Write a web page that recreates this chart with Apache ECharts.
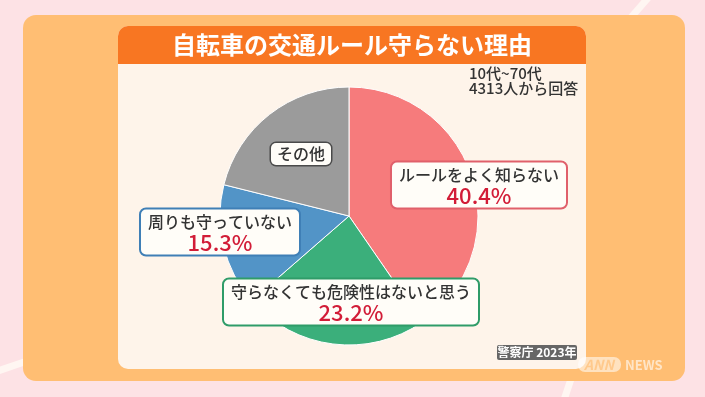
<!DOCTYPE html>
<html>
<head>
<meta charset="utf-8">
<script src="https://cdn.jsdelivr.net/npm/echarts@6/dist/echarts.min.js"></script>
<style>
  html, body { margin: 0; padding: 0; background: #fde2e5; }
  #chart { width: 705px; height: 397px; }
</style>
</head>
<body>
<div id="chart"></div>
<script>
// 回答の内訳（％）
const categories = ['ルールをよく知らない', '守らなくても危険性はないと思う', '周りも守っていない', 'その他'];
const shares = [40.4, 23.2, 15.3, 21.1];
const showPct = [true, true, true, false];
const sliceColors = ['#f67b7c', '#3baf7b', '#5294c7', '#9b9b9b'];
const boxBorders = ['#e0606b', '#2f9c69', '#3f7fb6', '#4a4a4a'];
// ラベルの中心位置
const labelAt = [[479, 185], [351, 302], [220, 232], [301, 154]];

const titleText = '自転車の交通ルール守らない理由';
const noteLines = ['10代~70代', '4313人から回答'];
const sourceText = '警察庁 2023年';

const font = '"Noto Sans CJK JP", "Noto Sans", sans-serif';

const chart = echarts.init(document.getElementById('chart'));

const option = {
  animation: false,
  backgroundColor: '#fde2e5',
  graphic: [
    // 背景の白い斜線
    { type: 'line', z: -5, shape: { x1: 648, y1: -2, x2: 620, y2: 30 }, style: { stroke: '#fff6f2', lineWidth: 7 } },
    { type: 'line', z: -5, shape: { x1: 564, y1: 400, x2: 574, y2: 370 }, style: { stroke: '#fff6f2', lineWidth: 7 } },
    { type: 'line', z: -5, shape: { x1: -2, y1: 371, x2: 30, y2: 360 }, style: { stroke: '#fff6f2', lineWidth: 7 } },
    // オレンジのパネル
    { type: 'rect', z: -4, shape: { x: 23, y: 15, width: 662, height: 366, r: 13 }, style: { fill: '#ffbe73' } },
    // クリーム色の内側
    { type: 'rect', z: -3, shape: { x: 118, y: 26, width: 468, height: 343, r: 10 }, style: { fill: '#fef4ea' } },
    // タイトルバー
    { type: 'rect', z: -2, shape: { x: 118, y: 26, width: 468, height: 38, r: [10, 10, 0, 0] }, style: { fill: '#f87622' } },
    {
      type: 'text', z: 10, x: 352, y: 45,
      style: { text: titleText, fill: '#fff', font: 'bold 24px ' + font, align: 'center', verticalAlign: 'middle' }
    },
    {
      type: 'text', z: 10, x: 469, y: 66,
      style: { text: noteLines.join('\n'), fill: '#333', font: '500 15px ' + font, lineHeight: 15 }
    },
    // 出典
    { type: 'rect', z: 10, shape: { x: 497, y: 345, width: 80, height: 15, r: 2 }, style: { fill: '#666' } },
    {
      type: 'text', z: 11, x: 537, y: 352.5,
      style: { text: sourceText, fill: '#fff', font: 'bold 12px ' + font, align: 'center', verticalAlign: 'middle' }
    },
    // ロゴ
    { type: 'rect', z: 10, shape: { x: 578, y: 357, width: 43, height: 15, r: 7 }, style: { fill: 'rgba(255,255,255,0.55)' } },
    {
      type: 'text', z: 11, x: 599, y: 365,
      style: { text: 'ANN', fill: '#ffc98c', font: 'italic bold 14px ' + font, align: 'center', verticalAlign: 'middle' }
    },
    {
      type: 'text', z: 11, x: 625, y: 365,
      style: { text: 'NEWS', fill: 'rgba(255,255,255,0.6)', font: 'bold 13px ' + font, verticalAlign: 'middle' }
    }
  ],
  series: [{
    type: 'pie',
    center: [349, 216],
    radius: 129,
    startAngle: 90,
    clockwise: true,
    silent: true,
    emphasis: { disabled: true },
    itemStyle: { borderColor: '#ffffff', borderWidth: 1 },
    labelLine: { show: false },
    data: categories.map((name, i) => ({
      name: name,
      value: shares[i],
      itemStyle: { color: sliceColors[i] },
      label: {
        borderColor: boxBorders[i],
        borderWidth: i === 3 ? 1.5 : 2,
        padding: i === 3 ? [1, 6, 1, 6] : [2, 7, 1, 7]
      }
    })),
    label: {
      show: true,
      position: 'inside',
      backgroundColor: '#fffdf8',
      borderRadius: 5,
      formatter: p => showPct[p.dataIndex]
        ? '{n|' + p.name + '}\n{p|' + p.value.toFixed(1) + '%}'
        : '{n|' + p.name + '}',
      rich: {
        n: { fontFamily: font, fontSize: 16, fontWeight: 500, color: '#333', lineHeight: 20, align: 'center' },
        p: { fontFamily: font, fontSize: 22, fontWeight: 500, color: '#d21c37', lineHeight: 22, align: 'center' }
      }
    },
    labelLayout: p => ({
      x: labelAt[p.dataIndex][0],
      y: labelAt[p.dataIndex][1],
      align: 'center',
      verticalAlign: 'middle'
    })
  }]
};

chart.setOption(option);
</script>
</body>
</html>
